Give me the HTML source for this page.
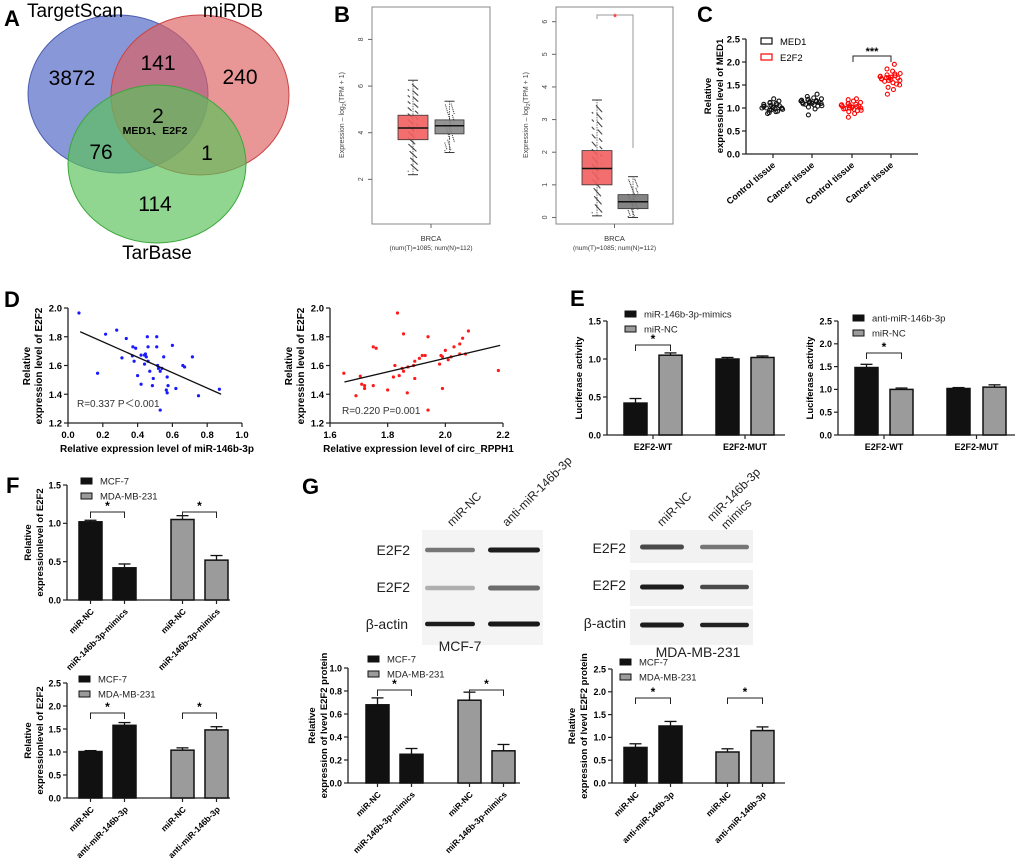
<!DOCTYPE html>
<html><head><meta charset="utf-8"><style>
html,body{margin:0;padding:0;background:#fff;}
svg{display:block;font-family:"Liberation Sans",Arial,sans-serif;}
.b{font-weight:bold;}
</style></head><body>
<svg id="fig" width="1020" height="864" viewBox="0 0 1020 864" xmlns="http://www.w3.org/2000/svg">
<rect width="1020" height="864" fill="#fff"/>
<g>
<text x="4" y="26" font-size="22" class="b">A</text>
<ellipse cx="118" cy="94" rx="90" ry="79" fill="#5a6fc7" fill-opacity="0.72" stroke="#4a5bb0"/>
<ellipse cx="200" cy="95" rx="89" ry="80" fill="#dd5d5d" fill-opacity="0.65" stroke="#c94444"/>
<ellipse cx="157" cy="164" rx="89" ry="79" fill="#5cc25c" fill-opacity="0.68" stroke="#3aa83a"/>
<text x="75" y="17" font-size="19" text-anchor="middle">TargetScan</text>
<text x="233" y="17" font-size="19" text-anchor="middle">miRDB</text>
<text x="157" y="259" font-size="19" text-anchor="middle">TarBase</text>
<g font-size="21" text-anchor="middle">
<text x="72" y="85">3872</text>
<text x="158" y="70">141</text>
<text x="240" y="84">240</text>
<text x="158" y="123">2</text>
<text x="101" y="159">76</text>
<text x="207" y="160">1</text>
<text x="155" y="211">114</text>
</g>
<text x="155" y="134" font-size="10.5" class="b" text-anchor="middle">MED1、E2F2</text>
</g>
<g id="panelB"><text x="334" y="22" font-size="22" class="b">B</text></g>
<g id="panelC"><text x="697" y="22" font-size="22" class="b">C</text></g>
<g id="panelD"><text x="4" y="307" font-size="22" class="b">D</text></g>
<g id="panelE"><text x="570" y="306" font-size="22" class="b">E</text></g>
<g id="panelF"><text x="6" y="493" font-size="22" class="b">F</text></g>
<g id="panelG"><text x="302" y="494" font-size="22" class="b">G</text></g>
</svg>
<script>
const NS="http://www.w3.org/2000/svg";
function mk(parent,tag,attrs,txt){const e=document.createElementNS(NS,tag);for(const k in attrs)e.setAttribute(k,attrs[k]);if(txt!==undefined)e.textContent=txt;parent.appendChild(e);return e;}

const bBoxLeftTumor=[2.2,3.7,4.2,4.75,6.25];
const bBoxLeftNormal=[3.15,3.95,4.3,4.55,5.35];
const bTicksLeft=[2,4,6,8];
const bBoxRightTumor=[0.05,1.0,1.5,2.05,3.6];
const bBoxRightNormal=[0.0,0.27,0.48,0.7,1.25];
const bTicksRight=[0,1,2,3,4,5,6];

const cCategories=["Control tissue","Cancer tissue","Control tissue","Cancer tissue"];
const cMED1Control=[0.88,0.92,0.95,0.97,0.98,1.0,1.0,1.02,1.03,1.05,1.06,1.08,1.1,1.12,1.15,1.2,0.9,0.99,1.01,1.04,0.93,0.96,1.0,1.07,1.11];
const cMED1Cancer=[0.85,0.98,1.02,1.05,1.07,1.08,1.1,1.1,1.12,1.13,1.14,1.15,1.16,1.18,1.2,1.22,1.25,1.3,1.11,1.09,1.04,1.12,1.17,1.14,1.19];
const cE2F2Control=[0.8,0.88,0.92,0.95,0.97,0.99,1.0,1.02,1.03,1.04,1.05,1.06,1.08,1.1,1.12,1.15,1.18,1.2,1.01,0.98,0.94,1.0,1.07,1.03,1.09];
const cE2F2Cancer=[1.3,1.4,1.45,1.5,1.55,1.58,1.6,1.62,1.64,1.65,1.66,1.68,1.7,1.72,1.75,1.8,1.85,1.95,1.67,1.63,1.52,1.6,1.69,1.74,1.66];
const cTicks=[0,0.5,1.0,1.5,2.0,2.5];

const dMiRX=[0.063,0.216,0.28,0.335,0.31,0.17,0.373,0.389,0.37,0.38,0.42,0.44,0.45,0.46,0.456,0.51,0.51,0.44,0.46,0.4,0.42,0.49,0.485,0.515,0.52,0.53,0.54,0.55,0.57,0.575,0.565,0.57,0.60,0.62,0.53,0.66,0.67,0.715,0.75,0.87,0.47,0.445];
const dMiRY=[1.965,1.818,1.846,1.788,1.653,1.546,1.73,1.72,1.667,1.63,1.672,1.672,1.66,1.73,1.80,1.80,1.73,1.61,1.63,1.53,1.47,1.51,1.46,1.60,1.58,1.56,1.58,1.66,1.52,1.46,1.43,1.41,1.74,1.44,1.29,1.60,1.59,1.66,1.39,1.435,1.56,1.68];
const dMiRLine=[[0.07,1.835],[0.88,1.40]];
const dCircX=[1.648,1.69,1.705,1.71,1.72,1.72,1.75,1.76,1.75,1.80,1.82,1.825,1.84,1.85,1.855,1.834,1.855,1.87,1.868,1.89,1.894,1.894,1.91,1.92,1.93,1.94,1.94,1.98,1.985,1.99,1.99,2.00,2.01,2.02,2.03,2.05,2.06,2.05,2.07,2.08,2.184];
const dCircY=[1.546,1.39,1.525,1.47,1.46,1.44,1.73,1.72,1.46,1.43,1.52,1.60,1.53,1.58,1.56,1.965,1.82,1.59,1.41,1.60,1.63,1.51,1.65,1.67,1.67,1.80,1.29,1.61,1.67,1.44,1.66,1.705,1.64,1.66,1.73,1.75,1.79,1.68,1.68,1.84,1.565];
const dCircLine=[[1.65,1.485],[2.19,1.74]];
const dYTicks=[1.2,1.4,1.6,1.8,2.0];
const dXTicksMiR=[0.0,0.2,0.4,0.6,0.8,1.0];
const dXTicksCirc=[1.6,1.8,2.0,2.2];

const eMimicsValues=[0.42,1.05,1.0,1.02];
const eMimicsErrors=[0.06,0.03,0.02,0.02];
const eAntiValues=[1.48,1.0,1.02,1.05];
const eAntiErrors=[0.07,0.03,0.02,0.05];
const eGroups=["E2F2-WT","E2F2-MUT"];
const fMimicsValues=[1.02,0.42,1.05,0.52];
const fMimicsErrors=[0.02,0.05,0.05,0.06];
const fAntiValues=[1.01,1.58,1.04,1.48];
const fAntiErrors=[0.02,0.06,0.05,0.07];
const gMimicsValues=[0.68,0.25,0.72,0.28];
const gMimicsErrors=[0.06,0.05,0.07,0.055];
const gAntiValues=[0.78,1.25,0.68,1.15];
const gAntiErrors=[0.08,0.1,0.07,0.08];
const mimicsLabels=["miR-NC","miR-146b-3p-mimics","miR-NC","miR-146b-3p-mimics"];
const antiLabels=["miR-NC","anti-miR-146b-3p","miR-NC","anti-miR-146b-3p"];

const svg=document.getElementById('fig');

function boxPlot(g,box,yTop,yBot,vmin,vmax,ticks,boxes,colors){
  const x0=box[0],x1=box[1];
  const sy=v=>yBot-(v-vmin)/(vmax-vmin)*(yBot-yTop);
  const fr=mk(g,'rect',{x:x0,y:7,width:x1-x0,height:217,fill:'none',stroke:'#888','stroke-width':1});
  
  
  ticks.forEach(t=>{
    const y=sy(t);
    mk(g,'line',{x1:x0-4,x2:x0,y1:y,y2:y,stroke:'#666'});
    const tl=mk(g,'text',{x:x0-9,y:y,'font-size':7,fill:'#444','text-anchor':'middle',transform:`rotate(-90 ${x0-9} ${y})`},String(t));
    
    
  });
  boxes.forEach((b,i)=>{
    const bx=box[2+i*2],bw=box[3+i*2]-bx,cx=bx+bw/2;
    const n=i===0?160:50;
    for(let k=0;k<n;k++){
      const f=((k*37)%n)/n;
      const v=b[1]-(b[1]-b[0])*0.9+(b[3]-b[1]+ (b[1]-b[0])*0.9+(b[4]-b[3])*0.9)*Math.pow(f,1.0);
      mk(g,'circle',{cx:cx+(((k*13)%17)-8)*bw/50,cy:sy(v),r:0.6,fill:'#444'});
    }
    mk(g,'line',{x1:cx,x2:cx,y1:sy(b[0]),y2:sy(b[4]),stroke:'#333','stroke-width':0.7,'stroke-dasharray':'1.5,1'});
    mk(g,'line',{x1:cx-5,x2:cx+5,y1:sy(b[0]),y2:sy(b[0]),stroke:'#333'});
    mk(g,'line',{x1:cx-5,x2:cx+5,y1:sy(b[4]),y2:sy(b[4]),stroke:'#333'});
    const r=mk(g,'rect',{x:bx,y:sy(b[3]),width:bw,height:sy(b[1])-sy(b[3]),fill:colors[i],'fill-opacity':0.9,stroke:'#333','stroke-width':0.8});
    
    
    mk(g,'line',{x1:bx,x2:bx+bw,y1:sy(b[2]),y2:sy(b[2]),stroke:'#111','stroke-width':1.5});
  });
  const cx=(x0+x1)/2;
  mk(g,'line',{x1:cx,x2:cx,y1:224,y2:228,stroke:'#666'});
  const l1=mk(g,'text',{x:cx,y:241,'font-size':7.5,fill:'#333','text-anchor':'middle'},'BRCA');
  
  
  const l2=mk(g,'text',{x:cx,y:250,'font-size':6.5,fill:'#333','text-anchor':'middle'},'(num(T)=1085; num(N)=112)');
  
  
  const yl=mk(g,'text',{x:x0-28,y:115,'font-size':7,fill:'#444','text-anchor':'middle',transform:`rotate(-90 ${x0-28} 115)`},'Expression – log');
  
  
  mk(yl,'tspan',{'font-size':5,dy:2},'2');
  mk(yl,'tspan',{dy:-2},'(TPM + 1)');
  return sy;
}
const gB=document.getElementById('panelB');
boxPlot(gB,[372,490,398,428,435,464],7,224,0.086,9.39,bTicksLeft,[bBoxLeftTumor,bBoxLeftNormal],['#f25f5f','#888']);
boxPlot(gB,[556,673,582,612,618,648],7,224,-0.2,6.45,bTicksRight,[bBoxRightTumor,bBoxRightNormal],['#f25f5f','#777']);
mk(gB,'polyline',{points:`597,19 597,15 633,15 633,148`,fill:'none',stroke:'#999','stroke-width':1});
const bStar=mk(gB,'text',{x:615,y:21,'font-size':11,fill:'#f00','text-anchor':'middle'},'*');



(function(){
  const g=document.getElementById('panelC');
  const ax=746,y0=154,yT=39,xEnd=918;
  const sy=v=>y0-v/2.5*(y0-yT);
  const cx=[773,812,852,891];
  mk(g,'line',{x1:ax,x2:ax,y1:yT,y2:y0,stroke:'#222','stroke-width':1.3});
  mk(g,'line',{x1:ax,x2:xEnd,y1:y0,y2:y0,stroke:'#222','stroke-width':1.3});
  cTicks.forEach(t=>{
    mk(g,'line',{x1:ax-4,x2:ax,y1:sy(t),y2:sy(t),stroke:'#222','stroke-width':1.2});
    const tl=mk(g,'text',{x:ax-6,y:sy(t)+3.5,'font-size':9.5,'text-anchor':'end','font-weight':'bold'},t.toFixed(1));
    
    
  });
  const groups=[cMED1Control,cMED1Cancer,cE2F2Control,cE2F2Cancer];
  groups.forEach((arr,i)=>{
    const col=i<2?'#111':'#f00';
    mk(g,'line',{x1:cx[i],x2:cx[i],y1:y0,y2:y0+4,stroke:'#222','stroke-width':1.2});
    const mid=arr.reduce((a,b)=>a+b,0)/arr.length;
    const spread=Math.max(...arr.map(v=>Math.abs(v-mid)));
    arr.forEach((v,k)=>{
      const w=1-0.7*Math.abs(v-mid)/spread;
      const off=((k*7)%11-5)/5*12*w;
      const p=mk(g,'circle',{cx:cx[i]+off,cy:sy(v),r:2,fill:'none',stroke:col,'stroke-width':1.1});
      
      
    });
    const lab=mk(g,'text',{x:cx[i]+3,y:y0+12,'font-size':9,'font-weight':'bold','text-anchor':'end',transform:`rotate(-40 ${cx[i]+3} ${y0+12})`},cCategories[i]);
    
    
  });
  mk(g,'polyline',{points:`853,62 853,56 891,56 891,62`,fill:'none',stroke:'#222','stroke-width':1});
  const st=mk(g,'text',{x:872,y:55,'font-size':11,'font-weight':'bold','text-anchor':'middle'},'***');
  
  
  [['MED1','#111',41],['E2F2','#f00',57]].forEach(([n,c,y])=>{
    mk(g,'rect',{x:761,y:y-3,width:11,height:6,fill:'none',stroke:c,'stroke-width':1.2});
    const t=mk(g,'text',{x:780,y:y+4,'font-size':9.5},n);
    
    
  });
  const t1=mk(g,'text',{x:711,y:96,'font-size':9.5,'font-weight':'bold','text-anchor':'middle',transform:'rotate(-90 711 96)'},'Relative');
  
  
  const t2=mk(g,'text',{x:723,y:96,'font-size':9.5,'font-weight':'bold','text-anchor':'middle',transform:'rotate(-90 723 96)'},'expression level of MED1');
  
  
})();

function scatter(g,ax,axEnd,xmin,xmax,xs,ys,line,xticks,col,rtext,rx,ry,xlabel){
  const y0=423,yT=308;
  const sx=v=>ax+(v-xmin)/(xmax-xmin)*(axEnd-ax);
  const sy=v=>y0-(v-1.2)/0.8*(y0-yT);
  mk(g,'line',{x1:ax,x2:ax,y1:yT,y2:y0,stroke:'#222','stroke-width':1.3});
  mk(g,'line',{x1:ax,x2:axEnd,y1:y0,y2:y0,stroke:'#222','stroke-width':1.3});
  dYTicks.forEach(t=>{
    mk(g,'line',{x1:ax-4,x2:ax,y1:sy(t),y2:sy(t),stroke:'#222','stroke-width':1.2});
    const tl=mk(g,'text',{x:ax-6,y:sy(t)+3.5,'font-size':9.5,'font-weight':'bold','text-anchor':'end'},t.toFixed(1));
    
    
  });
  xticks.forEach(t=>{
    mk(g,'line',{x1:sx(t),x2:sx(t),y1:y0,y2:y0+4,stroke:'#222','stroke-width':1.2});
    const tl=mk(g,'text',{x:sx(t),y:y0+15,'font-size':9.5,'font-weight':'bold','text-anchor':'middle'},t.toFixed(1));
    
    
  });
  xs.forEach((x,i)=>{
    const p=mk(g,'circle',{cx:sx(x),cy:sy(ys[i]),r:1.6,fill:col});
    
    
  });
  const ln=mk(g,'line',{x1:sx(line[0][0]),y1:sy(line[0][1]),x2:sx(line[1][0]),y2:sy(line[1][1]),stroke:'#111','stroke-width':1.3});
  
  
  const rt=mk(g,'text',{x:rx,y:ry,'font-size':10,fill:'#333'},rtext);
  
  
  const xl=mk(g,'text',{x:(ax+axEnd)/2+2,y:452,'font-size':10,'font-weight':'bold','text-anchor':'middle'},xlabel);
  
  
  const a=ax-38,b=ax-26;
  const t1=mk(g,'text',{x:a,y:366,'font-size':10,'font-weight':'bold','text-anchor':'middle',transform:`rotate(-90 ${a} 366)`},'Relative');
  
  
  const t2=mk(g,'text',{x:b,y:366,'font-size':10,'font-weight':'bold','text-anchor':'middle',transform:`rotate(-90 ${b} 366)`},'expression level of E2F2');
  
  
}
const gD=document.getElementById('panelD');
scatter(gD,68,242,0,1,dMiRX,dMiRY,dMiRLine,dXTicksMiR,'#1a1aff','R=0.337 P＜0.001',77,407,'Relative expression level of miR-146b-3p');
scatter(gD,330,503,1.6,2.2,dCircX,dCircY,dCircLine,dXTicksCirc,'#ff1a1a','R=0.220 P=0.001',342,414,'Relative expression level of circ_RPPH1');

function barChart(g,o){
  const sy=v=>o.y0-v/o.vmax*(o.y0-o.yT);
  mk(g,'line',{x1:o.ax,x2:o.ax,y1:o.yT,y2:o.y0,stroke:'#222','stroke-width':1.3});
  mk(g,'line',{x1:o.ax,x2:o.axEnd,y1:o.y0,y2:o.y0,stroke:'#222','stroke-width':1.3});
  const nT=Math.round(o.vmax/o.step);
  for(let k=0;k<=nT;k++){
    const t=k*o.step;
    mk(g,'line',{x1:o.ax-4,x2:o.ax,y1:sy(t),y2:sy(t),stroke:'#222','stroke-width':1.2});
    const tl=mk(g,'text',{x:o.ax-6,y:sy(t)+3.3,'font-size':9,'font-weight':'bold','text-anchor':'end'},t.toFixed(1));
    
    
  }
  o.values.forEach((v,i)=>{
    const x=o.bx[i],w=o.bw,cx=x+w/2;
    const r=mk(g,'rect',{x:x,y:sy(v),width:w,height:o.y0-sy(v),fill:o.colors[i],stroke:'#111','stroke-width':1.5});
    
    
    const e=o.errors[i];
    mk(g,'line',{x1:cx,x2:cx,y1:sy(v),y2:sy(v+e),stroke:'#111','stroke-width':1.3});
    mk(g,'line',{x1:cx-6,x2:cx+6,y1:sy(v+e),y2:sy(v+e),stroke:'#111','stroke-width':1.3});
    if(o.labels){
      mk(g,'line',{x1:cx,x2:cx,y1:o.y0,y2:o.y0+4,stroke:'#222','stroke-width':1.2});
      const lx=cx+4,ly=o.y0+12;
      const lb=mk(g,'text',{x:lx,y:ly,'font-size':8.5,'font-weight':'bold','text-anchor':'end',transform:`rotate(-45 ${lx} ${ly})`},o.labels[i]);
      
      
    }
  });
  if(o.groups){
    o.groups.forEach((n,j)=>{
      const cx=(o.bx[j*2]+o.bx[j*2+1]+o.bw)/2;
      mk(g,'line',{x1:cx,x2:cx,y1:o.y0,y2:o.y0+4,stroke:'#222','stroke-width':1.2});
      const t=mk(g,'text',{x:cx,y:o.y0+15,'font-size':9,'font-weight':'bold','text-anchor':'middle'},n);
      
      
    });
  }
  o.sig.forEach(([i,j])=>{
    const a=o.bx[i]+o.bw/2,b=o.bx[j]+o.bw/2,y=o.sigY;
    mk(g,'polyline',{points:`${a},${y+6} ${a},${y} ${b},${y} ${b},${y+6}`,fill:'none',stroke:'#222','stroke-width':1});
    const s=mk(g,'text',{x:(a+b)/2,y:y-2,'font-size':12,'font-weight':'bold','text-anchor':'middle'},'*');
    
    
  });
  o.legend.forEach(([n,c],k)=>{
    const y=o.legY+k*15;
    mk(g,'rect',{x:o.legX,y:y-3,width:11,height:6,fill:c,stroke:'#111','stroke-width':1});
    const t=mk(g,'text',{x:o.legX+19,y:y+3.5,'font-size':9.5,fill:'#222'},n);
    
    
  });
  o.title.forEach((tt,k)=>{
    const x=o.ax-o.titleOff+k*12,y=(o.yT+o.y0)/2;
    const t=mk(g,'text',{x:x,y:y,'font-size':9.5,'font-weight':'bold','text-anchor':'middle',transform:`rotate(-90 ${x} ${y})`},tt);
    
    
  });
}
const K='#111',G='#9b9b9b';
const gE=document.getElementById('panelE');
barChart(gE,{ax:607,axEnd:785,y0:435,yT:321,vmax:1.5,step:0.5,values:eMimicsValues,errors:eMimicsErrors,bx:[624,659,716,751],bw:23,colors:[K,G,K,G],groups:eGroups,sig:[[0,1]],sigY:345,legend:[['miR-146b-3p-mimics',K],['miR-NC',G]],legX:625,legY:314,title:['Luciferase activity'],titleOff:25});
barChart(gE,{ax:838,axEnd:1015,y0:435,yT:321,vmax:2.5,step:0.5,values:eAntiValues,errors:eAntiErrors,bx:[855,890,947,983],bw:23,colors:[K,G,K,G],groups:eGroups,sig:[[0,1]],sigY:353,legend:[['anti-miR-146b-3p',K],['miR-NC',G]],legX:853,legY:318,title:['Luciferase activity'],titleOff:25});
const gF=document.getElementById('panelF');
barChart(gF,{ax:67,axEnd:230,y0:600,yT:485,vmax:1.5,step:0.5,values:fMimicsValues,errors:fMimicsErrors,bx:[79,113,171,205],bw:23,colors:[K,K,G,G],labels:mimicsLabels,sig:[[0,1],[2,3]],sigY:512,legend:[['MCF-7',K],['MDA-MB-231',G]],legX:81,legY:481,title:['Relative','expressionlevel of E2F2'],titleOff:36});
barChart(gF,{ax:67,axEnd:230,y0:798,yT:683,vmax:2.5,step:0.5,values:fAntiValues,errors:fAntiErrors,bx:[79,113,171,205],bw:23,colors:[K,K,G,G],labels:antiLabels,sig:[[0,1],[2,3]],sigY:713,legend:[['MCF-7',K],['MDA-MB-231',G]],legX:79,legY:679,title:['Relative','expressionlevel of E2F2'],titleOff:36});
const gG=document.getElementById('panelG');
barChart(gG,{ax:348,axEnd:520,y0:783,yT:668,vmax:1.0,step:0.2,values:gMimicsValues,errors:gMimicsErrors,bx:[366,400,458,492],bw:23,colors:[K,K,G,G],labels:mimicsLabels,sig:[[0,1],[2,3]],sigY:690,legend:[['MCF-7',K],['MDA-MB-231',G]],legX:368,legY:659,title:['Relative','expression of lvevl E2F2 protein'],titleOff:33});
barChart(gG,{ax:612,axEnd:785,y0:783,yT:669,vmax:2.5,step:0.5,values:gAntiValues,errors:gAntiErrors,bx:[624,659,716,751],bw:23,colors:[K,K,G,G],labels:antiLabels,sig:[[0,1],[2,3]],sigY:698,legend:[['MCF-7',K],['MDA-MB-231',G]],legX:620,legY:662,title:['Relative','expression of lvevl E2F2 protein'],titleOff:37});

function band(g,x,y,w,h,op){
  const b=mk(g,'rect',{x:x,y:y-h/2,width:w,height:h,rx:h/2,fill:'#111','fill-opacity':op});
  
  
}
(function(){
  const g=gG;
  mk(g,'rect',{x:422,y:530,width:121,height:115,fill:'#f4f4f4'});
  [[550,[0.55,0.95]],[588,[0.3,0.6]],[624,[0.95,0.97]]].forEach(([y,ops])=>{
    band(g,425,y,50,4.5,ops[0]);band(g,488,y,52,5,ops[1]);
  });
  [[630,530,33],[630,570,36],[630,609,36]].forEach(([x,y,h])=>mk(g,'rect',{x:x,y:y,width:123,height:h,fill:'#f2f2f2'}));
  [[547,[0.75,0.55]],[587,[0.95,0.75]],[625,[0.95,0.92]]].forEach(([y,ops])=>{
    band(g,640,y,44,5,ops[0]);band(g,700,y,49,4.5,ops[1]);
  });
  const labs=[[410,555,'E2F2'],[410,592,'E2F2'],[408,629,'β-actin'],[626,553,'E2F2'],[626,590,'E2F2'],[626,628,'β-actin']];
  labs.forEach(([x,y,t])=>{
    const e=mk(g,'text',{x:x,y:y,'font-size':14,'text-anchor':'end',fill:'#222'},t);
    
    
  });
  const c1=mk(g,'text',{x:460,y:651,'font-size':14,'text-anchor':'middle',fill:'#222'},'MCF-7');
  
  
  const c2=mk(g,'text',{x:698,y:657,'font-size':14,'text-anchor':'middle',fill:'#222'},'MDA-MB-231');
  
  
  const lanes=[[452,527,'miR-NC'],[507,527,'anti-miR-146b-3p'],[662,527,'miR-NC'],[712,522,'miR-146b-3p'],[726,530,'mimics']];
  lanes.forEach(([x,y,t])=>{
    const e=mk(g,'text',{x:x,y:y,'font-size':12,fill:'#222',transform:`rotate(-45 ${x} ${y})`},t);
    
    
  });
})();
</script>
</body></html>
